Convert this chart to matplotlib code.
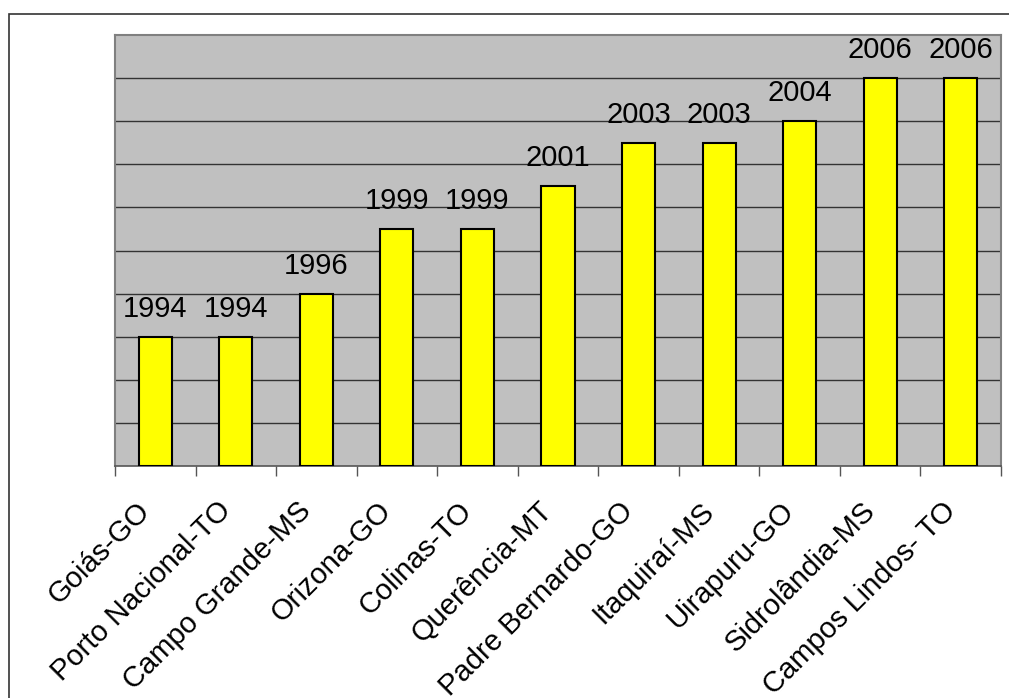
import numpy as np
import matplotlib.pyplot as plt
from matplotlib.patches import Rectangle

plt.rcParams['font.family'] = ['Liberation Sans', 'DejaVu Sans']

# data
cities = ['Goiás-GO', 'Porto Nacional-TO', 'Campo Grande-MS', 'Orizona-GO',
          'Colinas-TO', 'Querência-MT', 'Padre Bernardo-GO', 'Itaquiraí-MS',
          'Uirapuru-GO', 'Sidrolândia-MS', 'Campos Lindos- TO']
years = [1994, 1994, 1996, 1999, 1999, 2001, 2003, 2003, 2004, 2006, 2006]
y_min, y_max = 1988, 2008

fig = plt.figure(figsize=(10.09, 6.98), dpi=100)
fig.patches.append(Rectangle((9 / 1009, -0.05), 1.1, 1 - 14 / 698 + 0.05,
                             transform=fig.transFigure, fill=False,
                             edgecolor='#333333', linewidth=1.2))

ax = fig.add_axes([115 / 1009, 1 - 466 / 698, (1001 - 115) / 1009, (466 - 35) / 698])
ax.set_facecolor('#C0C0C0')

x = np.arange(len(cities))
vals = np.array(years) - y_min
ax.bar(x, vals, bottom=y_min, width=0.41, color='#FFFF00',
       edgecolor='black', linewidth=1.5, zorder=3)

for xi, yr in zip(x, years):
    ax.annotate(str(yr), (xi, yr), xytext=(0, 10), textcoords='offset points',
                ha='center', va='bottom', fontsize=21, zorder=4)

ax.set_xlim(-0.5, len(cities) - 0.5)
ax.set_ylim(y_min, y_max)
ax.set_yticks(np.arange(1990, 2008, 2))
ax.yaxis.grid(True, color='#333333', linewidth=1)
ax.set_axisbelow(True)
ax.tick_params(axis='y', length=0, labelleft=False)

# ticks at category boundaries
ax.set_xticks(np.arange(-0.5, len(cities), 1))
ax.set_xticklabels([])
ax.tick_params(axis='x', direction='out', length=7, color='#555555', width=1)
for xi, name in zip(x, cities):
    ax.annotate(name, (xi, y_min), xytext=(-14, -22), textcoords='offset points',
                ha='right', va='top', rotation=45, rotation_mode='anchor',
                fontsize=21, annotation_clip=False)

for side in ['left', 'top', 'right']:
    ax.spines[side].set_color('#808080')
    ax.spines[side].set_linewidth(1.5)
ax.spines['bottom'].set_color('#555555')
ax.spines['bottom'].set_linewidth(1.2)

fig.savefig('out.png', dpi=100)
